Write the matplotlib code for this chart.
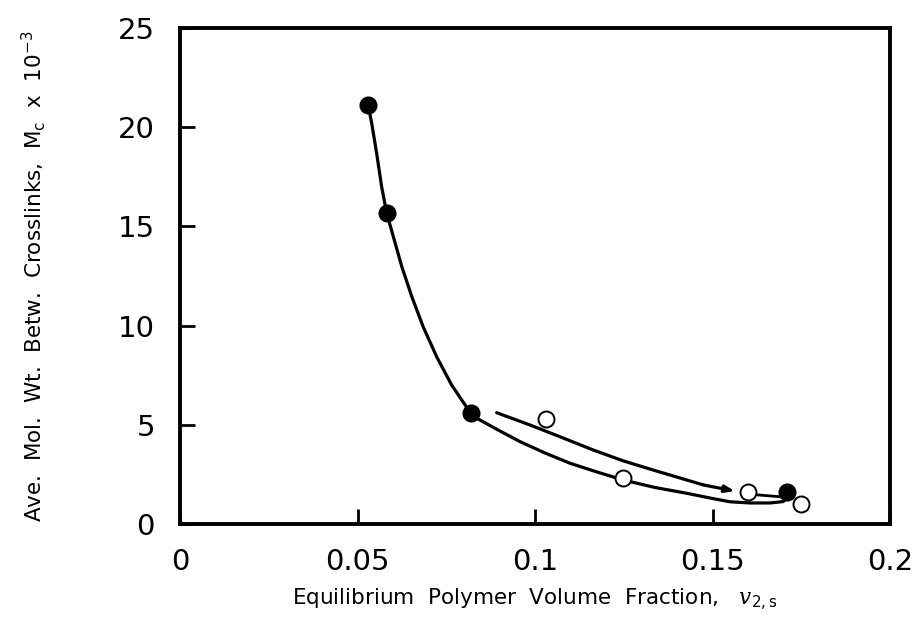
import matplotlib
matplotlib.use("Agg")
import matplotlib.pyplot as plt

plt.rcParams['font.family'] = ['DejaVu Sans']
plt.rcParams['mathtext.fontset'] = 'custom'
plt.rcParams['mathtext.rm'] = 'DejaVu Sans'
plt.rcParams['mathtext.it'] = 'DejaVu Serif:italic'

# ---- data ----
filled_x = [0.0530, 0.0582, 0.0819, 0.1709]
filled_y = [21.1, 15.7, 5.6, 1.6]

open_x = [0.1031, 0.1248, 0.1600, 0.1749]
open_y = [5.3, 2.3, 1.6, 1.0]

# hand-drawn curve through filled points (and lower branch)
main_x = [0.0530, 0.0540, 0.0554, 0.0568, 0.0582, 0.0601, 0.0625, 0.0653, 0.0685,
          0.0723, 0.0765, 0.0819, 0.0836, 0.0901, 0.0958, 0.1028, 0.1099, 0.1175,
          0.1248, 0.1338, 0.1427, 0.1493, 0.1549, 0.1606, 0.1662, 0.1699, 0.1710]
main_y = [21.12, 20.20, 18.68, 17.00, 15.69, 14.48, 12.96, 11.46, 9.94,
          8.43, 7.01, 5.58, 5.33, 4.69, 4.15, 3.58, 3.06, 2.62,
          2.22, 1.84, 1.55, 1.31, 1.12, 1.06, 1.06, 1.13, 1.31]

# upper curve (with arrow)
upper_x = [0.0892, 0.0986, 0.1070, 0.1164, 0.1249, 0.1333, 0.1474, 0.1563]
upper_y = [5.61, 4.99, 4.40, 3.73, 3.18, 2.72, 1.97, 1.66]

# short connector
link_x = [0.1625, 0.1700]
link_y = [1.47, 1.36]

x_ticks = [0, 0.05, 0.1, 0.15, 0.2]
x_ticklabels = ["0", "0.05", "0.1", "0.15", "0.2"]
y_ticks = [0, 5, 10, 15, 20, 25]
y_ticklabels = ["0", "5", "10", "15", "20", "25"]

fig = plt.figure(figsize=(9.14, 6.19), dpi=100)
ax = fig.add_axes([180/914, 1-524/619, 710/914, 496/619])

ax.plot(main_x, main_y, color='black', lw=2.3, solid_capstyle='round',
        solid_joinstyle='round', zorder=2)
ax.plot(upper_x[:-1], upper_y[:-1], color='black', lw=2.3, solid_capstyle='round',
        solid_joinstyle='round', zorder=2)
ax.annotate('', xy=(upper_x[-1], upper_y[-1]), xytext=(upper_x[-2], upper_y[-2]),
            arrowprops=dict(arrowstyle='-|>,head_length=0.55,head_width=0.2',
                            color='black', lw=2.3, shrinkA=0, shrinkB=0))
ax.plot(link_x, link_y, color='black', lw=2.0, zorder=2)

ax.plot(filled_x, filled_y, 'o', ms=12, mfc='black', mec='black', zorder=3)
ax.plot(open_x, open_y, 'o', ms=11.5, mfc='white', mec='black', mew=1.4, zorder=3)

ax.set_xlim(0, 0.2)
ax.set_ylim(0, 25)
ax.set_xticks(x_ticks)
ax.set_xticklabels(x_ticklabels)
ax.set_yticks(y_ticks)
ax.set_yticklabels(y_ticklabels)

for s in ax.spines.values():
    s.set_linewidth(2.8)

ax.tick_params(axis='x', direction='in', length=11, width=2, pad=17, labelsize=21)
ax.tick_params(axis='y', direction='in', length=11, width=2, pad=18, labelsize=21)

ax.set_xlabel("Equilibrium  Polymer  Volume  Fraction,   $v_{\\mathrm{2,s}}$",
              fontsize=15.5, labelpad=8)
ax.set_ylabel("Ave.  Mol.  Wt.  Betw.  Crosslinks,  M$_{\\mathrm{c}}$  x  10$^{\\mathrm{-3}}$",
              fontsize=15.5, labelpad=50)

fig.savefig("out.png", dpi=100)
